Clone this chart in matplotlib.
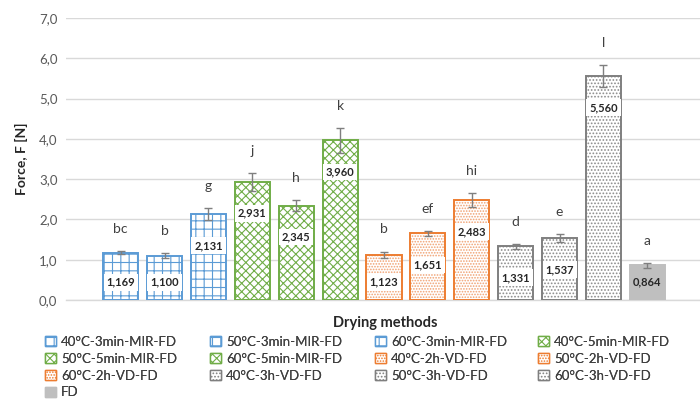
import matplotlib
matplotlib.use("Agg")
import matplotlib.pyplot as plt
from matplotlib.patches import Patch

plt.rcParams['font.family'] = ['Lato', 'DejaVu Sans']
plt.rcParams['hatch.linewidth'] = 0.8

methods = ["40°C-3min-MIR-FD", "50°C-3min-MIR-FD", "60°C-3min-MIR-FD",
           "40°C-5min-MIR-FD", "50°C-5min-MIR-FD", "60°C-5min-MIR-FD",
           "40°C-2h-VD-FD", "50°C-2h-VD-FD", "60°C-2h-VD-FD",
           "40°C-3h-VD-FD", "50°C-3h-VD-FD", "60°C-3h-VD-FD", "FD"]
force = [1.169, 1.100, 2.131, 2.931, 2.345, 3.960, 1.123, 1.651, 2.483,
         1.331, 1.537, 5.560, 0.864]
errors = [0.04, 0.06, 0.15, 0.22, 0.14, 0.30, 0.08, 0.06, 0.18, 0.06, 0.10, 0.28, 0.06]
letters = ["bc", "b", "g", "j", "h", "k", "b", "ef", "hi", "d", "e", "l", "a"]
groups = ["mir3", "mir3", "mir3", "mir5", "mir5", "mir5", "vd2", "vd2", "vd2",
          "vd3", "vd3", "vd3", "fd"]

styles = {
    "mir3": dict(facecolor="white", edgecolor="#5B9BD5", hatch="++"),
    "mir5": dict(facecolor="white", edgecolor="#70AD47", hatch="xxxx"),
    "vd2": dict(facecolor="white", edgecolor="#F0A070", hatch="......"),
    "vd3": dict(facecolor="white", edgecolor="#8C8C8C", hatch="....."),
    "fd": dict(facecolor="#BFBFBF", edgecolor="#BFBFBF", hatch=None),
}
edge_main = {"mir3": "#5B9BD5", "mir5": "#70AD47", "vd2": "#ED7D31",
             "vd3": "#7F7F7F", "fd": "#BFBFBF"}

fig = plt.figure(figsize=(7.0, 4.01), dpi=100)
ax = fig.add_axes([0.094, 0.252, 0.906, 0.703])

handles = []
for i, (v, e, g) in enumerate(zip(force, errors, groups)):
    st = styles[g]
    ax.bar(i, v, width=0.8, linewidth=0, zorder=3, **st)
    ax.bar(i, v, width=0.8, linewidth=1.4, facecolor="none",
           edgecolor=edge_main[g], zorder=3.5)
    ax.errorbar(i, v, yerr=e, fmt="none", ecolor="#7F7F7F", elinewidth=1.0,
                capsize=3, capthick=1.0, zorder=4)
    ax.text(i, v + e + 0.55, letters[i], ha="center", va="center",
            fontsize=10, color="#404040", zorder=5)
    ly = max(v - 0.78, 0.44)
    box = None if g == "fd" else dict(boxstyle="square,pad=0.25", facecolor="white",
                                       edgecolor="none")
    ax.text(i, ly, f"{v:.3f}".replace(".", ","), ha="center", va="center",
            fontsize=8, fontweight="bold", color="#262626", bbox=box, zorder=5)
    handles.append(Patch(label=methods[i], linewidth=1.0, facecolor=st["facecolor"],
                         edgecolor=edge_main[g], hatch=st["hatch"]))

ax.set_xlim(-1.25, 13.2)
ax.set_ylim(0, 7)
yt = [0, 1, 2, 3, 4, 5, 6, 7]
ax.set_yticks(yt)
ax.set_yticklabels([f"{t:.1f}".replace(".", ",") for t in yt], fontsize=9.5, color="#595959")
ax.set_xticks([])
ax.grid(axis="y", color="#D9D9D9", linewidth=1.0, zorder=0)
for s in ["top", "right", "left"]:
    ax.spines[s].set_visible(False)
ax.spines["bottom"].set_color("#D9D9D9")
ax.spines["bottom"].set_linewidth(1.0)
ax.tick_params(axis="y", length=0, pad=6)
ax.set_ylabel("Force, F [N]", fontsize=10, fontweight="bold", color="#262626", labelpad=8)

fig.text(0.55, 0.195, "Drying methods", ha="center", va="center",
         fontsize=10.5, fontweight="bold", color="#262626")

ncol = 4
col_x = [45 / 700, 210 / 700, 375 / 700, 538 / 700]
for c in range(ncol):
    hs = [handles[k] for k in range(c, len(handles), ncol)]
    leg = fig.legend(handles=hs, ncol=1, loc="upper left",
                     bbox_to_anchor=(col_x[c], 0.162),
                     frameon=False, fontsize=9.5, handlelength=0.8, handleheight=0.8,
                     handletextpad=0.4, labelspacing=0.36, borderpad=0,
                     borderaxespad=0, labelcolor="#404040")
    fig.add_artist(leg)

fig.savefig("out.png", dpi=100)
